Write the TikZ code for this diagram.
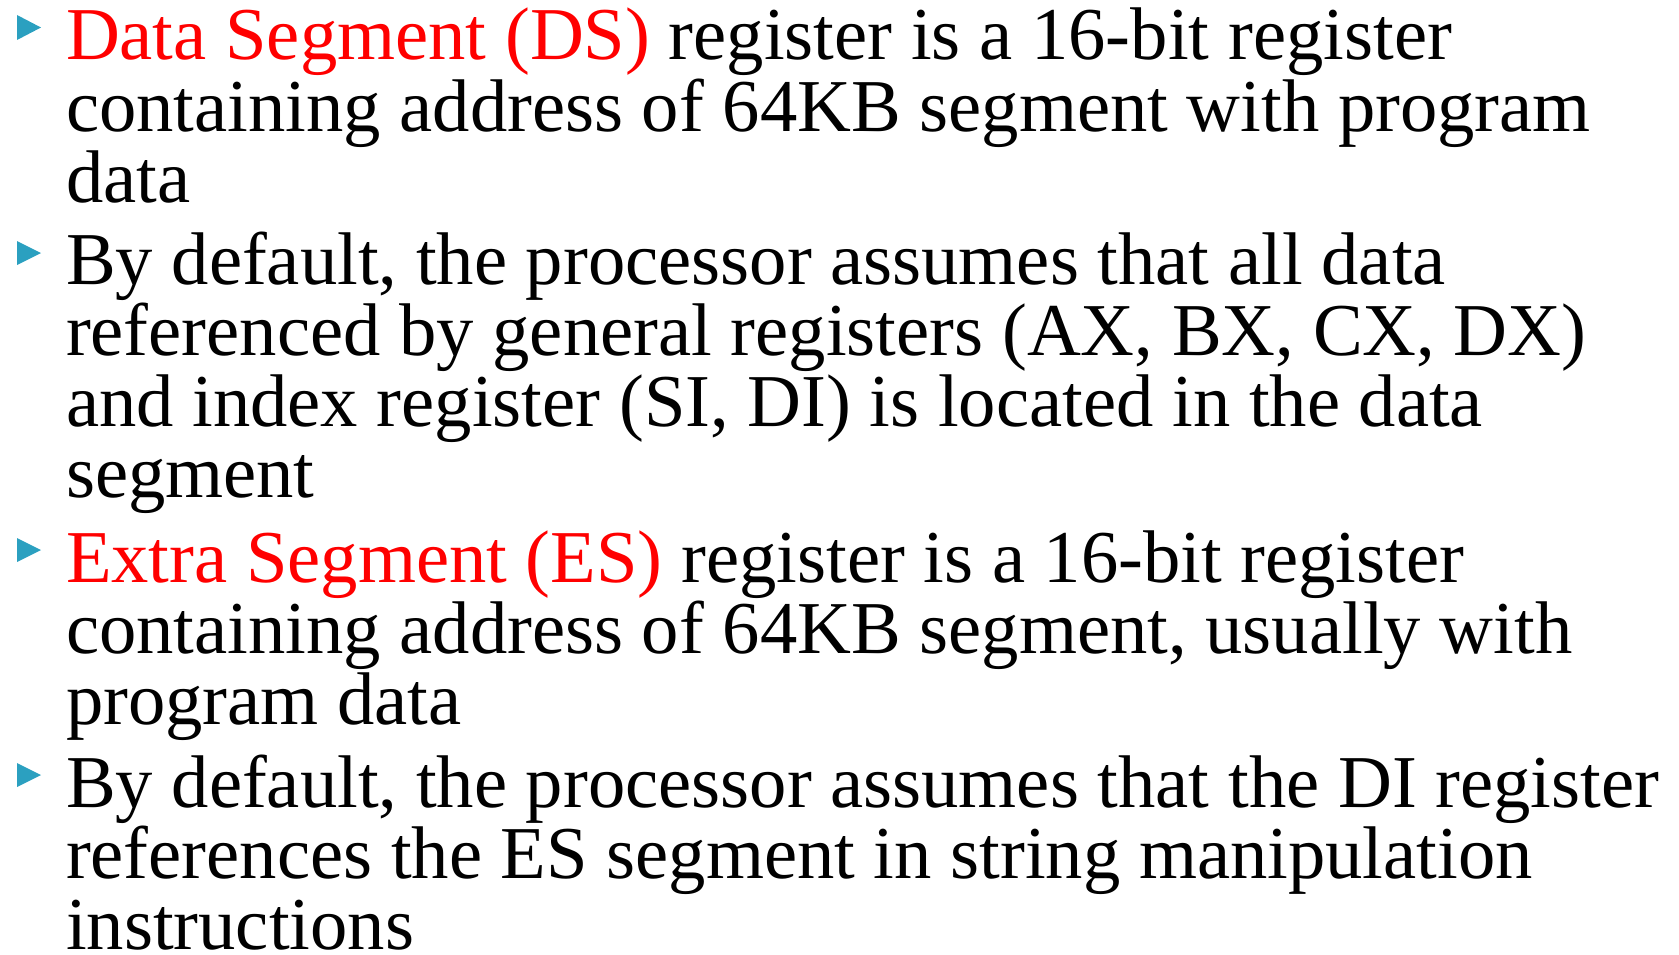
\documentclass[tikz,border=0pt]{standalone}
\usepackage{fontspec}
\setmainfont{Liberation Serif}
\definecolor{bulletblue}{RGB}{43,160,192}
\definecolor{hlred}{RGB}{255,0,0}
\begin{document}
\begin{tikzpicture}[x=1pt,y=1pt,
  txt/.style={anchor=base west,inner sep=0pt,outer sep=0pt,
    font=\fontsize{74.6pt}{71.3pt}\selectfont},
  bul/.style={fill=bulletblue}]
\useasboundingbox (0,0) rectangle (1679,-955);
% bullets
\fill[bul] (17,-15) -- (41,-27.5) -- (17,-40) -- cycle;
\fill[bul] (17,-241) -- (41,-253) -- (17,-265) -- cycle;
\fill[bul] (17,-538) -- (41,-550) -- (17,-562) -- cycle;
\fill[bul] (17,-763) -- (41,-775) -- (17,-787) -- cycle;
% bullet 1
\node[txt] (a1) at (66,-60) {\textcolor{hlred}{Data Segment (DS)} register is a 16-bit register};
\node[txt] (a2) at (66,-131.3) {containing address of 64KB segment with program};
\node[txt] (a3) at (66,-202.6) {data};
% bullet 2
\node[txt] (b1) at (66,-284) {By default, the processor assumes that all data};
\node[txt] (b2) at (66,-355.3) {referenced by general registers (AX, BX, CX, DX)};
\node[txt] (b3) at (66,-426.6) {and index register (SI, DI) is located in the data};
\node[txt] (b4) at (66,-497.9) {segment};
% bullet 3
\node[txt] (c1) at (66,-582) {\textcolor{hlred}{Extra Segment (ES)} register is a 16-bit register};
\node[txt] (c2) at (66,-653.3) {containing address of 64KB segment, usually with};
\node[txt] (c3) at (66,-724.6) {program data};
% bullet 4
\node[txt] (d1) at (66,-807) {By default, the processor assumes that the DI register};
\node[txt] (d2) at (66,-878.3) {references the ES segment in string manipulation};
\node[txt] (d3) at (66,-949.6) {instructions};
\end{tikzpicture}
\end{document}
